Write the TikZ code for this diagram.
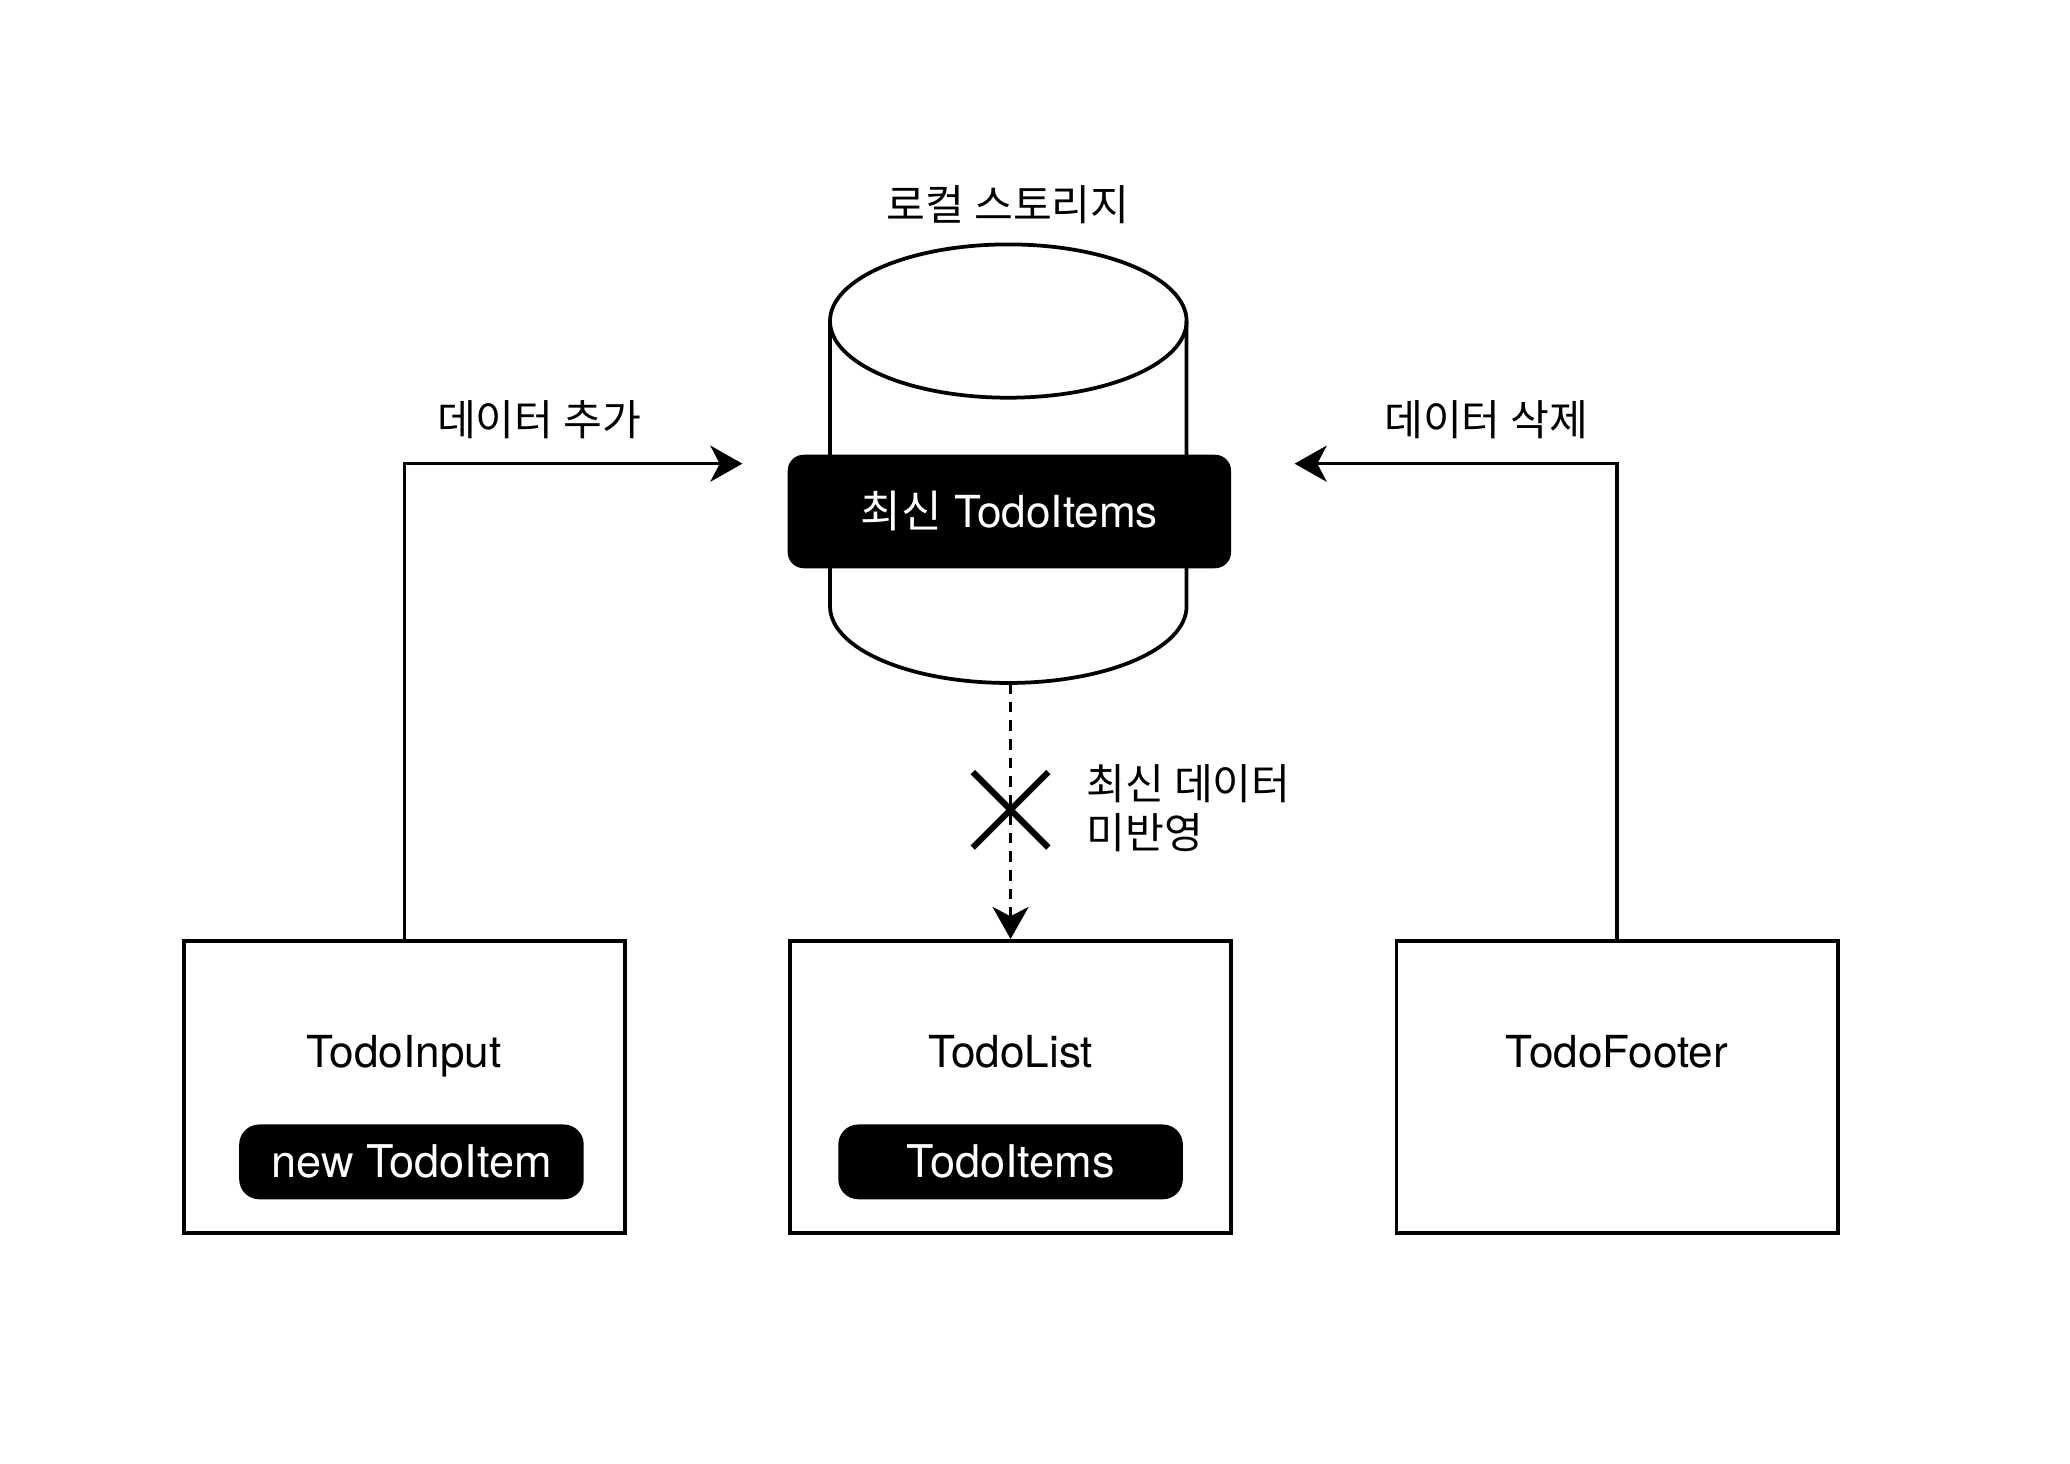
\documentclass[tikz,border=0pt]{standalone}
\usepackage{fontspec}
\setmainfont{TeX Gyre Heros}
\newfontfamily\krfont{Noto Sans CJK KR}
\usetikzlibrary{shapes.misc,arrows.meta}

\begin{document}
\begin{tikzpicture}[font=\fontsize{9.4}{11}\selectfont,
    >={Stealth[length=2.4mm,width=2.7mm,inset=0.7mm]}]
        \useasboundingbox (0,0) rectangle (15.5,10.96);

        % local storage
        \draw [line width=0.8pt] (6.215, 8.556) -- (6.215, 6.42) arc[start angle=180, end angle=360, x radius=1.335cm, y radius=0.574cm] -- (8.885, 8.556);
        \draw [line width=0.8pt] (7.55, 8.556) ellipse [x radius=1.335cm, y radius=0.574cm];
        \coordinate (LSbot) at (7.567, 5.846);
        \node (LSt) [font=\krfont\fontsize{9}{11}\selectfont] at (7.55, 9.43) {로컬 스토리지};
        \node (LSb) [fill=black, text=white, rounded corners=1.2mm, minimum width=3.32cm, minimum height=0.85cm] at (7.558, 7.13) {{\krfont 최신} TodoItems};

        \begin{scope}[every node/.style={draw, line width=0.8pt, minimum width=3.304cm, minimum height=2.19cm}]
            \node (TI) at (3.027, 2.82) {};
            \node (TL) at (7.567, 2.82) {};
            \node (TF) at (12.108, 2.82) {};
        \end{scope}

        \begin{scope}[every node/.style={text height=1.6ex, text depth=0.45ex}]
            \node (TIt) at (3.027, 3.076) {TodoInput};
            \node (TLt) at (7.567, 3.076) {TodoList};
            \node (TFt) at (12.108, 3.076) {TodoFooter};
        \end{scope}

        \begin{scope}[every node/.style={fill=black, text=white, rounded corners=1.5mm, minimum width=2.58cm, minimum height=0.56cm, font=\fontsize{9.6}{11}\selectfont}]
            \node (TIv) at (3.081, 2.26) {new TodoItem};
            \node (TLv) at (7.567, 2.26) {TodoItems};
        \end{scope}

        \coordinate (addEnd) at (5.559, 7.488);
        \coordinate (delEnd) at (9.694, 7.488);

        \begin{scope}[every node/.style={font=\krfont\fontsize{9}{11}\selectfont}]
            \draw [->, line width=0.65pt] (TI.north) |- (addEnd);
            \node (addLbl) at (4.036, 7.814) {데이터 추가};
            \draw [->, line width=0.65pt] (TF.north) |- (delEnd);
            \node (delLbl) at (11.128, 7.814) {데이터 삭제};
        \end{scope}

        \draw [->, line width=0.65pt, dash pattern=on 0.8mm off 0.6mm] (LSbot) -- (TL.north);
        \node (noSync) [cross out, draw, line width=1.3pt, inner sep=0pt, minimum size=0.52cm] at (7.567, 4.896) {};
        \node (noSyncLbl) [anchor=west, align=left, inner sep=0pt, font=\krfont\fontsize{9}{10.4}\selectfont] at (8.131, 4.911) {최신 데이터\\미반영};
    \end{tikzpicture}
\end{document}
